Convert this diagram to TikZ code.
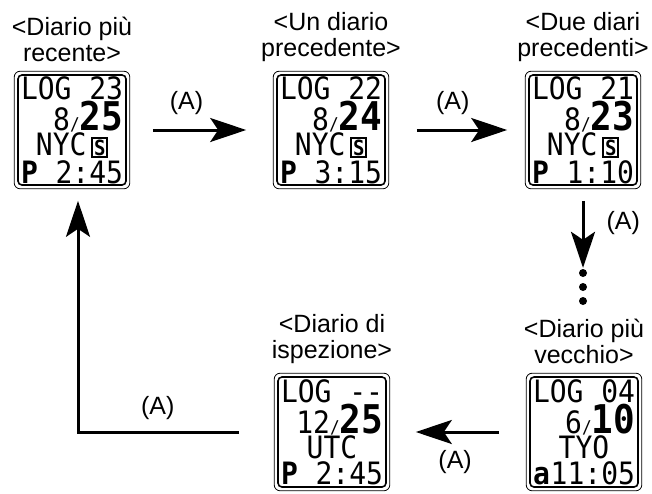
\documentclass[tikz,border=0pt]{standalone}
\usepackage{fontspec}
\usepackage{graphicx}
\setmainfont{Liberation Sans}
\newfontfamily\lcdfont{DejaVu Sans Mono}
\usepackage{tikz}
\usetikzlibrary{positioning, arrows.meta}

\newcommand{\lcdrow}[1]{\scalebox{1}[1.1]{\makebox[102pt][s]{#1}}}
\newcommand{\lcdday}[1]{{\fontsize{36}{36}\selectfont\bfseries #1}}
\newcommand{\lcdsl}{{\fontsize{16}{16}\selectfont /}}
\newcommand{\lcdS}{{\setlength{\fboxrule}{1.8pt}\setlength{\fboxsep}{0.8pt}\fbox{\fontsize{19}{19}\selectfont\bfseries S}}}

\begin{document}
\begin{tikzpicture}[x=1pt, y=-1pt,
            screen/.style={draw, line width=1.6pt, rounded corners=4pt, minimum width=108pt, minimum height=110pt, inner sep=0pt, text width=102pt, align=center, font=\lcdfont\fontsize{28}{25}\selectfont},
            caption/.style={align=center, inner sep=0pt, font=\fontsize{25}{26}\selectfont},
            lbl/.style={inner sep=0pt, font=\fontsize{25}{26}\selectfont},
            arrow/.style={-{Stealth[length=36pt, width=24pt, inset=8pt]}, line width=3pt},
            dot/.style={circle, fill, inner sep=0pt, minimum size=8pt}
        ]
            \useasboundingbox (0,0) rectangle (652,493);

            \node[screen] (log23) at (72,130) {\lcdrow{LOG\hfill 23}\\ \lcdrow{\hfill 8\lcdsl\lcdday{25}}\\ \lcdrow{\hfill NYC\hspace{5pt}\lcdS\hfill}\\[1pt] \lcdrow{\textbf{P}\hfill 2:45}};
            \node[screen] (log22) at (331,130) {\lcdrow{LOG\hfill 22}\\ \lcdrow{\hfill 8\lcdsl\lcdday{24}}\\ \lcdrow{\hfill NYC\hspace{5pt}\lcdS\hfill}\\[1pt] \lcdrow{\textbf{P}\hfill 3:15}};
            \node[screen] (log21) at (583,130) {\lcdrow{LOG\hfill 21}\\ \lcdrow{\hfill 8\lcdsl\lcdday{23}}\\ \lcdrow{\hfill NYC\hspace{5pt}\lcdS\hfill}\\[1pt] \lcdrow{\textbf{P}\hfill 1:10}};
            \node[screen] (loginsp) at (332,432) {\lcdrow{LOG\hfill --}\\ \lcdrow{\hfill 12\lcdsl\lcdday{25}}\\ \lcdrow{\hfill UTC\hfill}\\[1pt] \lcdrow{\textbf{P}\hfill 2:45}};
            \node[screen] (log04) at (584,432) {\lcdrow{LOG\hfill 04}\\ \lcdrow{\hfill 6\lcdsl\lcdday{10}}\\ \lcdrow{\hfill TYO\hfill}\\[1pt] \lcdrow{\textbf{a}\hfill 11:05}};

            % outer frame of each screen
            \foreach \s in {log23, log22, log21, loginsp, log04}
                \draw[line width=0.8pt, rounded corners=6pt] ([shift={(-3,-3)}]\s.north west) rectangle ([shift={(3,3)}]\s.south east);

            \node[caption, above=12pt of log23] (cap23) {<Diario più\\recente>};
            \node[caption, above=12pt of log22] (cap22) {<Un diario\\precedente>};
            \node[caption, above=12pt of log21] (cap21) {<Due diari\\precedenti>};
            \node[caption, above=12pt of loginsp] (capinsp) {<Diario di\\ispezione>};
            \node[caption, above=12pt of log04] (cap04) {<Diario più\\vecchio>};

            \node[dot] (dot1) at (583,273) {};
            \node[dot] (dot2) at (583,287) {};
            \node[dot] (dot3) at (583,301) {};

            \draw[arrow, shorten <=26pt, shorten >=30pt] (log23) -- node[lbl, pos=0.4, yshift=27pt] {(A)} (log22);
            \draw[arrow, shorten <=31pt, shorten >=21pt] (log22) -- node[lbl, pos=0.47, yshift=27pt] {(A)} (log21);
            \draw[arrow, shorten <=15pt, shorten >=1pt] (log21) -- node[lbl, pos=0.45, right=22pt] {(A)} (dot1);
            \draw[arrow, shorten <=30pt, shorten >=29pt] (log04) -- node[lbl, pos=0.52, yshift=-30pt] {(A)} (loginsp);
            \draw[arrow, shorten <=38pt, shorten >=15pt] (loginsp.west) -| node[lbl, pos=0.3, yshift=24pt] {(A)} ([xshift=6pt]log23.south);

        \end{tikzpicture}
\end{document}
